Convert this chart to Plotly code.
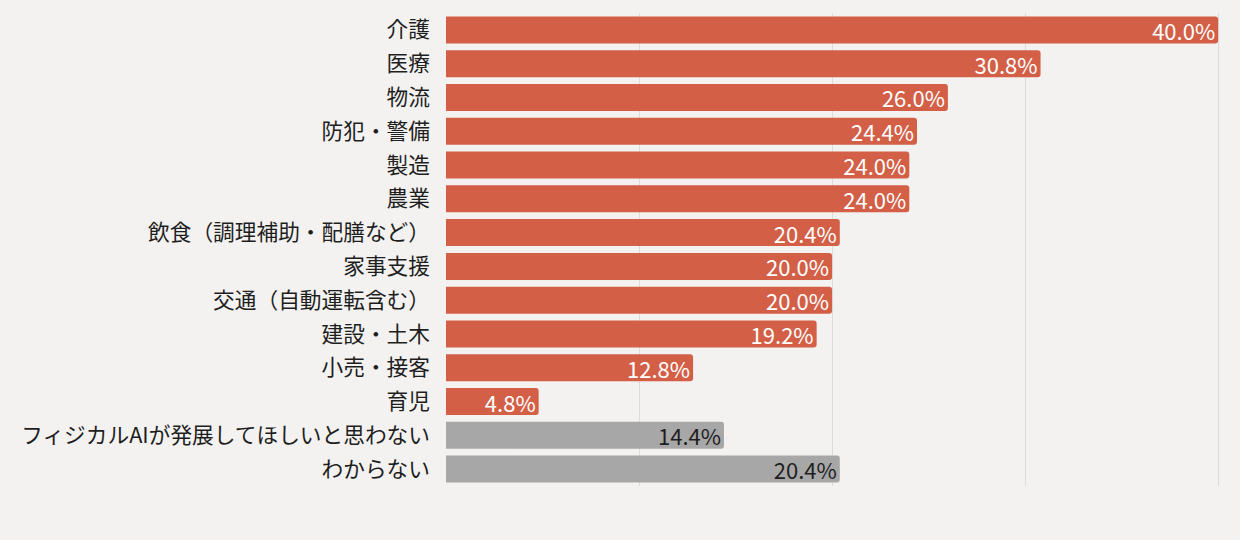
import plotly.graph_objects as go

# survey answers, top to bottom
categories = [
    "介護", "医療", "物流", "防犯・警備", "製造", "農業",
    "飲食（調理補助・配膳など）", "家事支援", "交通（自動運転含む）",
    "建設・土木", "小売・接客", "育児",
    "フィジカルAIが発展してほしいと思わない", "わからない",
]
values = [40.0, 30.8, 26.0, 24.4, 24.0, 24.0, 20.4, 20.0, 20.0, 19.2, 12.8, 4.8, 14.4, 20.4]
is_other = [False] * 12 + [True, True]

RED = "#d35f47"
GRAY = "#a7a7a7"
BG = "#f3f2f0"

bar_colors = [GRAY if o else RED for o in is_other]
text_colors = ["#1e1e1e" if o else "white" for o in is_other]

fig = go.Figure(go.Bar(
    x=values,
    y=categories,
    orientation="h",
    marker=dict(color=bar_colors, line=dict(width=0)),
    text=[f"{v:.1f}%" for v in values],
    textposition="inside",
    insidetextanchor="end",
    constraintext="none",
    textfont=dict(size=22, color=text_colors, family="Noto Sans CJK JP"),
    hoverinfo="skip",
))

fig.update_layout(
    width=1240,
    height=540,
    margin=dict(l=446, r=18, t=13, b=54),
    paper_bgcolor=BG,
    plot_bgcolor=BG,
    bargap=0.2,
    barcornerradius=3,
    font=dict(family="Noto Sans CJK JP", size=21.7, color="#1e1e1e"),
    showlegend=False,
    xaxis=dict(
        range=[0, 40.2],
        tickvals=[10, 20, 30, 40],
        showticklabels=False,
        showgrid=True,
        gridcolor="#dddbd9",
        gridwidth=1,
        zeroline=False,
        showline=False,
        fixedrange=True,
    ),
    yaxis=dict(
        autorange="reversed",
        showgrid=False,
        showline=False,
        zeroline=False,
        ticks="",
        ticklabelstandoff=15,
        tickfont=dict(size=21.7, color="#1e1e1e"),
        fixedrange=True,
    ),
)

# drop the browser's default page margin so the figure fills the window
fig.write_html("out.html", config={"displayModeBar": False},
               post_script="document.body.style.margin='0';")
